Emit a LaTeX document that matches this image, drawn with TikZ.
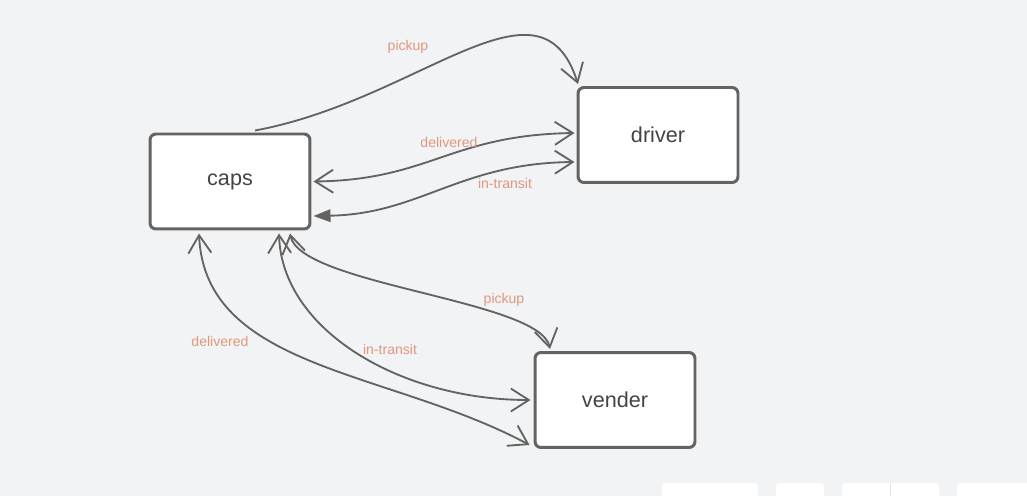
\documentclass[tikz,border=0pt]{standalone}
\usepackage{fontspec}
\setmainfont{Liberation Sans}
\usetikzlibrary{arrows.meta,calc}
\definecolor{canvas}{HTML}{F2F3F5}
\definecolor{edgegray}{HTML}{636363}
\definecolor{textgray}{HTML}{444444}
\definecolor{labelorange}{HTML}{E0977E}
\tikzset{
  state/.style={draw=edgegray, fill=white, line width=1.7pt, rounded corners=0.12cm,
    minimum width=3.2cm, minimum height=1.9cm, inner sep=0pt,
    font=\fontsize{12.3}{14}\selectfont, text=textgray},
  flow/.style={draw=edgegray, line width=1.05pt},
  tag/.style={font=\fontsize{8}{10}\selectfont, text=labelorange, inner sep=0pt},
  chev/.tip={Straight Barb[length=0.36cm,width=0.46cm]},
  solid/.tip={Triangle[length=0.34cm,width=0.25cm]},
}
\begin{document}
\begin{tikzpicture}[x=0.02cm, y=-0.02cm]
        % Canvas
        \useasboundingbox[fill=canvas] (0,0) rectangle (1027,496);
        \begin{scope}
          \clip (0,0) rectangle (1027,496);
          \fill[white, rounded corners=0.06cm] (662,502) -- (662,483) -- (758,483) -- (758,502) -- cycle;
          \fill[white, rounded corners=0.06cm] (776,502) -- (776,483) -- (824,483) -- (824,502) -- cycle;
          \fill[white, rounded corners=0.06cm] (842,502) -- (842,483) -- (939,483) -- (939,502) -- cycle;
          \fill[white, rounded corners=0.06cm] (957,502) -- (957,483) -- (1035,483) -- (1035,502) -- cycle;
          \draw[canvas!70!gray!60, line width=0.5pt] (890,483) -- (890,496);
        \end{scope}
        % States
        \node[state] (caps) at (230, 181.5) {caps};
        \node[state] (driver) at (658, 135) {driver};
        \node[state] (vender) at (615, 400) {vender};
        % Flows
        \draw[flow, -chev] ($(caps.north)+(25,-2)$) .. controls (420,100) and (540,-35) .. ($(driver.north)+(-80,-2)$);
        \draw[flow, chev-chev] ($(caps.east)+(2,0)$) .. controls (430,180) and (450,135) .. ($(driver.west)+(-2,-2)$);
        \draw[flow, solid-chev] ($(caps.east)+(2,34.5)$) .. controls (420,214) and (460,163) .. ($(driver.west)+(-2,27)$);
        \draw[flow, chev-chev] ($(caps.south)+(60,3)$) .. controls (300,285) and (540,300) .. ($(vender.north)+(-65,-2)$);
        \draw[flow, chev-chev] ($(caps.south)+(49,3)$) .. controls (282,330) and (400,400) .. ($(vender.west)+(-3,0)$);
        \draw[flow, chev-chev] ($(caps.south)+(-31,3)$) .. controls (205,370) and (390,370) .. ($(vender.west)+(-4,45)$);
        % Labels
        \node[tag] (pickupTop) at (408, 47) {pickup};
        \node[tag] (deliveredTop) at (449, 142) {delivered};
        \node[tag] (transitTop) at (505, 183) {in-transit};
        \node[tag] (pickupLow) at (504, 300) {pickup};
        \node[tag] (transitLow) at (390, 349) {in-transit};
        \node[tag] (deliveredLow) at (220, 341) {delivered};
\end{tikzpicture}
\end{document}
